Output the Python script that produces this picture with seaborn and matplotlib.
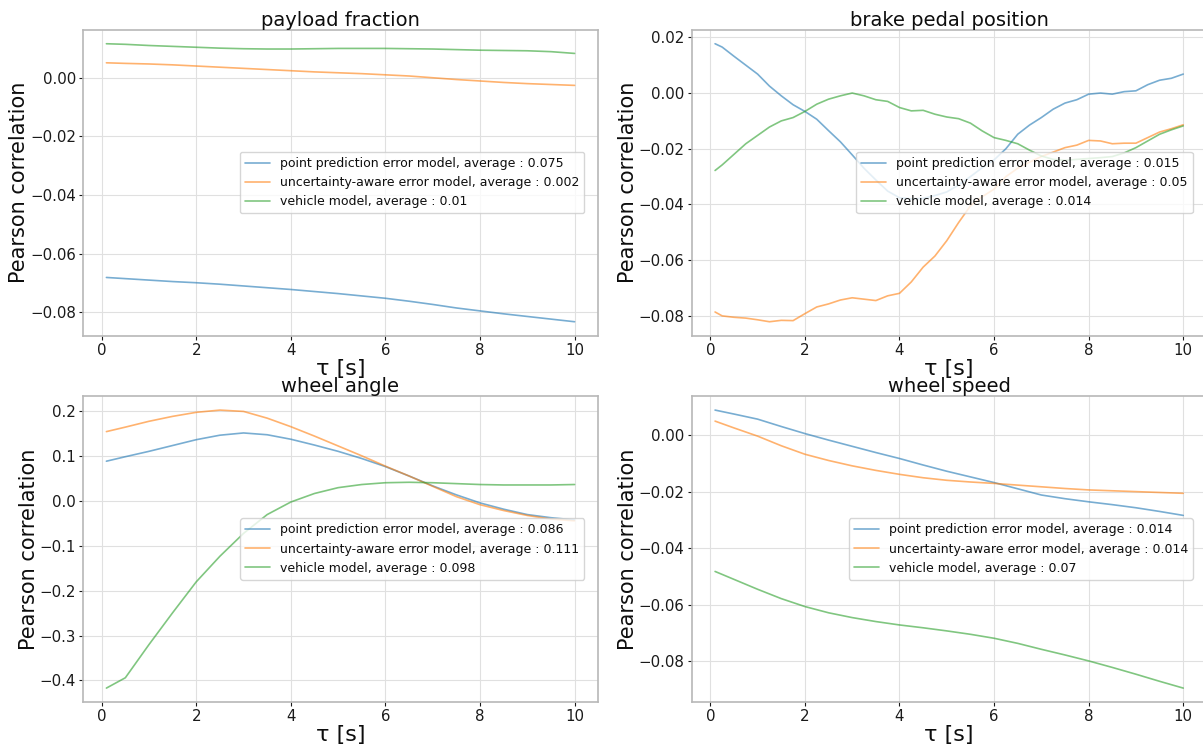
import matplotlib
matplotlib.use("Agg")
import matplotlib.pyplot as plt
import pandas as pd
import seaborn as sns

# time horizon tau [s]
TAU = [0.1, 0.5, 1.0, 1.5, 2.0, 2.5, 3.0, 3.5, 4.0, 4.5, 5.0,
       5.5, 6.0, 6.5, 7.0, 7.5, 8.0, 8.5, 9.0, 9.5, 10.0]
TAU_FINE = [0.1, 0.25, 0.5, 0.75, 1.0, 1.25, 1.5, 1.75, 2.0, 2.25, 2.5,
            2.75, 3.0, 3.25, 3.5, 3.75, 4.0, 4.25, 4.5, 4.75, 5.0,
            5.25, 5.5, 5.75, 6.0, 6.25, 6.5, 6.75, 7.0, 7.25, 7.5,
            7.75, 8.0, 8.25, 8.5, 8.75, 9.0, 9.25, 9.5, 9.75, 10.0]

MODELS = ["point prediction error model", "uncertainty-aware error model", "vehicle model"]

payload_point = [-0.0681, -0.0685, -0.0690, -0.0695, -0.0699, -0.0704, -0.0710, -0.0716, -0.0722, -0.0729, -0.0736,
                 -0.0744, -0.0752, -0.0762, -0.0773, -0.0785, -0.0795, -0.0805, -0.0814, -0.0823, -0.0832]
payload_unc = [0.0051, 0.0049, 0.0047, 0.0044, 0.0040, 0.0036, 0.0032, 0.0028, 0.0024, 0.0020, 0.0017,
               0.0014, 0.0010, 0.0006, 0.0000, -0.0006, -0.0011, -0.0016, -0.0020, -0.0023, -0.0026]
payload_vehicle = [0.0116, 0.0114, 0.0110, 0.0107, 0.0104, 0.0101, 0.0099, 0.0098, 0.0098, 0.0099, 0.0100,
                   0.0100, 0.0100, 0.0099, 0.0098, 0.0096, 0.0094, 0.0093, 0.0092, 0.0089, 0.0083]
payload_avg = [0.075, 0.002, 0.01]

brake_point = [0.0177, 0.0165, 0.0132, 0.0100, 0.0068, 0.0025, -0.0010, -0.0042, -0.0066, -0.0094, -0.0135,
               -0.0175, -0.0222, -0.0270, -0.0312, -0.0352, -0.0376, -0.0380, -0.0378, -0.0368, -0.0355,
               -0.0330, -0.0300, -0.0268, -0.0240, -0.0200, -0.0148, -0.0115, -0.0088, -0.0058, -0.0036,
               -0.0024, -0.0004, 0.0000, -0.0004, 0.0005, 0.0008, 0.0030, 0.0046, 0.0053, 0.0068]
brake_unc = [-0.0786, -0.0800, -0.0805, -0.0808, -0.0814, -0.0821, -0.0816, -0.0817, -0.0792, -0.0768, -0.0757,
             -0.0743, -0.0735, -0.0740, -0.0745, -0.0728, -0.0719, -0.0678, -0.0625, -0.0585, -0.0530,
             -0.0465, -0.0405, -0.0372, -0.0345, -0.0300, -0.0270, -0.0248, -0.0228, -0.0212, -0.0196,
             -0.0187, -0.0170, -0.0172, -0.0182, -0.0180, -0.0180, -0.0160, -0.0140, -0.0128, -0.0114]
brake_vehicle = [-0.0278, -0.0258, -0.0220, -0.0182, -0.0152, -0.0122, -0.0100, -0.0088, -0.0066, -0.0040, -0.0022,
                 -0.0010, 0.0000, -0.0010, -0.0024, -0.0030, -0.0052, -0.0064, -0.0062, -0.0076, -0.0086,
                 -0.0092, -0.0108, -0.0136, -0.0160, -0.0170, -0.0182, -0.0205, -0.0226, -0.0238, -0.0242,
                 -0.0238, -0.0235, -0.0232, -0.0228, -0.0215, -0.0196, -0.0172, -0.0148, -0.0132, -0.0118]
brake_avg = [0.015, 0.05, 0.014]

angle_point = [0.089, 0.099, 0.111, 0.124, 0.137, 0.147, 0.152, 0.148, 0.138, 0.125, 0.111,
               0.095, 0.077, 0.056, 0.034, 0.014, -0.004, -0.018, -0.030, -0.037, -0.042]
angle_unc = [0.155, 0.165, 0.178, 0.189, 0.198, 0.203, 0.200, 0.185, 0.166, 0.145, 0.123,
             0.101, 0.078, 0.056, 0.033, 0.010, -0.008, -0.021, -0.032, -0.040, -0.044]
angle_vehicle = [-0.417, -0.394, -0.320, -0.249, -0.180, -0.123, -0.072, -0.030, -0.002, 0.017, 0.030,
                 0.037, 0.041, 0.042, 0.041, 0.039, 0.037, 0.036, 0.036, 0.036, 0.037]
angle_avg = [0.086, 0.111, 0.098]

speed_point = [0.0088, 0.0074, 0.0056, 0.0030, 0.0005, -0.0018, -0.0040, -0.0062, -0.0083, -0.0106, -0.0128,
               -0.0148, -0.0168, -0.0190, -0.0212, -0.0225, -0.0236, -0.0246, -0.0257, -0.0270, -0.0284]
speed_unc = [0.0049, 0.0025, -0.0004, -0.0038, -0.0068, -0.0090, -0.0109, -0.0125, -0.0139, -0.0151, -0.0160,
             -0.0166, -0.0171, -0.0177, -0.0183, -0.0189, -0.0194, -0.0197, -0.0200, -0.0203, -0.0206]
speed_vehicle = [-0.0482, -0.0510, -0.0545, -0.0578, -0.0606, -0.0628, -0.0645, -0.0659, -0.0671, -0.0681, -0.0692,
                 -0.0704, -0.0718, -0.0736, -0.0757, -0.0777, -0.0798, -0.0821, -0.0845, -0.0870, -0.0894]
speed_avg = [0.014, 0.014, 0.07]


def panel_frame(tau, series, averages):
    rows = []
    for name, values, avg in zip(MODELS, series, averages):
        label = f"{name}, average : {avg}"
        for t, v in zip(tau, values):
            rows.append({"tau": t, "corr": v, "model": label})
    return pd.DataFrame(rows)


panels = [
    ("payload fraction", TAU, [payload_point, payload_unc, payload_vehicle], payload_avg),
    ("brake pedal position", TAU_FINE, [brake_point, brake_unc, brake_vehicle], brake_avg),
    ("wheel angle", TAU, [angle_point, angle_unc, angle_vehicle], angle_avg),
    ("wheel speed", TAU, [speed_point, speed_unc, speed_vehicle], speed_avg),
]

sns.set_style("whitegrid", {
    "axes.edgecolor": "0.72",
    "grid.color": "0.88",
    "xtick.bottom": True,
    "ytick.left": True,
    "xtick.color": "0.1",
    "ytick.color": "0.1",
    "text.color": "0.05",
    "axes.labelcolor": "0.05",
})
plt.rcParams["font.family"] = ["DejaVu Sans"]
plt.rcParams["xtick.major.size"] = 3
plt.rcParams["ytick.major.size"] = 3
plt.rcParams["xtick.major.pad"] = 2
plt.rcParams["ytick.major.pad"] = 2

fig, axes = plt.subplots(2, 2, figsize=(12.03, 7.46), dpi=100)
fig.subplots_adjust(left=0.069, right=1.003, top=0.960, bottom=0.059, wspace=0.182, hspace=0.198)

colors = ["#1f77b4", "#ff7f0e", "#2ca02c"]

for ax, (title, tau, series, averages) in zip(axes.flat, panels):
    df = panel_frame(tau, series, averages)
    sns.lineplot(data=df, x="tau", y="corr", hue="model", palette=colors,
                 alpha=0.6, linewidth=1.2, ax=ax)
    sns.move_legend(ax, "center right", title=None, fontsize=9,
                    borderaxespad=1.1, framealpha=0.8)
    for line in ax.get_legend().get_lines():
        line.set_alpha(0.6)
    ax.set_title(title, fontsize=14, pad=2)
    ax.set_xlabel("τ [s]", fontsize=16, labelpad=1)
    ax.set_ylabel("Pearson correlation", fontsize=15, labelpad=0.5)
    ax.tick_params(labelsize=10.8)
    for spine in ax.spines.values():
        spine.set_linewidth(1.2)

fig.savefig("out.png", dpi=100)
